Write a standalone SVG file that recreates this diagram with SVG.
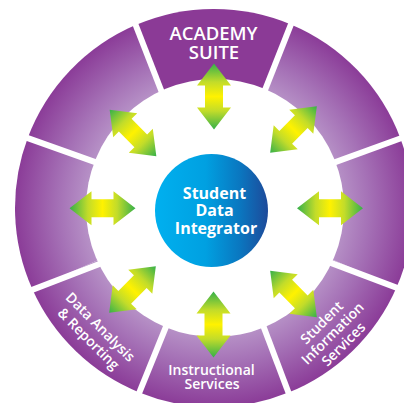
<svg xmlns="http://www.w3.org/2000/svg" xmlns:xlink="http://www.w3.org/1999/xlink" width="407" height="406" viewBox="0 0 407 406">
<style>
.seg{fill:url(#segGrad)}
.seg-top{fill:#8b3a96}
.gap{stroke:#fff;stroke-width:6;fill:none}
.lbl{fill:#fff;font-family:"Open Sans","Liberation Sans",sans-serif;font-weight:600;text-anchor:middle}
.hub-lbl{fill:#fff;font-family:"Open Sans","Liberation Sans",sans-serif;font-weight:700;font-size:16px;text-anchor:middle}
.arrow{fill:url(#arrowGrad)}
</style>
<defs>
<radialGradient id="segGrad" gradientUnits="userSpaceOnUse" cx="214" cy="208" r="199">
<stop offset="0.62" stop-color="#b996c9"/>
<stop offset="0.78" stop-color="#a571b6"/>
<stop offset="1" stop-color="#8b3c98"/>
</radialGradient>
<linearGradient id="arrowGrad" x1="0" y1="0" x2="1" y2="0">
<stop offset="0" stop-color="#35b04a"/>
<stop offset="0.28" stop-color="#c2dc2a"/>
<stop offset="0.5" stop-color="#fff200"/>
<stop offset="0.72" stop-color="#c2dc2a"/>
<stop offset="1" stop-color="#35b04a"/>
</linearGradient>
<linearGradient id="hubGrad" x1="0" y1="0" x2="1" y2="0">
<stop offset="0" stop-color="#00b0ef"/>
<stop offset="0.45" stop-color="#00a0e1"/>
<stop offset="0.75" stop-color="#0a77c0"/>
<stop offset="1" stop-color="#1d4a9a"/>
</linearGradient>
<clipPath id="ringClip"><rect x="0" y="0" width="404" height="403"/></clipPath>
<path id="arrowShape" d="M-33 0 L-11 -17 L-11 -9 L11 -9 L11 -17 L33 0 L11 17 L11 9 L-11 9 L-11 17 Z"/>
</defs>

<g id="ring" clip-path="url(#ringClip)">
<g id="seg-academy-suite">
<path class="seg-top" d="M214 208 L135.6 25.1 A199 199 0 0 1 290.9 24.4 Z"/>
</g>
<g id="seg-upper-right">
<path class="seg" d="M214 208 L290.9 24.4 A199 199 0 0 1 400.4 138.4 Z"/>
</g>
<g id="seg-right">
<path class="seg" d="M214 208 L400.4 138.4 A199 199 0 0 1 396.5 287.5 Z"/>
</g>
<g id="seg-student-information-services">
<path class="seg" d="M214 208 L396.5 287.5 A199 199 0 0 1 288.4 392.6 Z"/>
</g>
<g id="seg-instructional-services">
<path class="seg" d="M214 208 L288.4 392.6 A199 199 0 0 1 139.3 392.5 Z"/>
</g>
<g id="seg-data-analysis">
<path class="seg" d="M214 208 L139.3 392.5 A199 199 0 0 1 32.5 289.6 Z"/>
</g>
<g id="seg-left">
<path class="seg" d="M214 208 L32.5 289.6 A199 199 0 0 1 27.7 138.1 Z"/>
</g>
<g id="seg-upper-left">
<path class="seg" d="M214 208 L27.7 138.1 A199 199 0 0 1 135.6 25.1 Z"/>
</g>
<g id="gaps">
<line class="gap" x1="123.9" y1="-5.2" x2="172.5" y2="119.5"/>
<line class="gap" x1="302.9" y1="-5.9" x2="254.1" y2="117.6"/>
<line class="gap" x1="431.9" y1="127" x2="307.1" y2="172.4"/>
<line class="gap" x1="308.3" y1="254.4" x2="428.3" y2="299.6"/>
<line class="gap" x1="255" y1="304" x2="301.7" y2="427.6"/>
<line class="gap" x1="175.8" y1="302.5" x2="125.8" y2="425.9"/>
<line class="gap" x1="124.1" y1="254.5" x2="-29.9" y2="313.7"/>
<line class="gap" x1="121.3" y1="171.3" x2="-33.7" y2="116.3"/>
</g>
</g>
<circle id="inner-field" cx="215" cy="208" r="129" fill="#fff"/>

<g id="labels">
<text class="lbl" font-size="18.5"><tspan x="213.5" y="40">ACADEMY</tspan><tspan x="214" y="59">SUITE</tspan></text>
<text class="lbl" font-size="14"><tspan x="211.5" y="375">Instructional</tspan><tspan x="212" y="388.5">Services</tspan></text>
<text class="lbl" font-size="14" transform="translate(94.5 332.8) rotate(45)"><tspan x="0" y="-3.3">Data Analysis</tspan><tspan x="0" y="13.3">&amp; Reporting</tspan></text>
<text class="lbl" font-size="14" transform="translate(332.5 333.3) rotate(-45)"><tspan x="0" y="-10.3">Student</tspan><tspan x="0" y="5">Information</tspan><tspan x="0" y="20.3">Services</tspan></text>
</g>

<g id="connectors">
<use xlink:href="#arrowShape" class="arrow" transform="translate(214 96.5) rotate(90)"/>
<use xlink:href="#arrowShape" class="arrow" transform="translate(213.5 324.5) rotate(90)"/>
<use xlink:href="#arrowShape" class="arrow" transform="translate(102.5 208.3)"/>
<use xlink:href="#arrowShape" class="arrow" transform="translate(330 208.3)"/>
<use xlink:href="#arrowShape" class="arrow" transform="translate(133 133) rotate(45)"/>
<use xlink:href="#arrowShape" class="arrow" transform="translate(293.5 129.5) rotate(-45)"/>
<use xlink:href="#arrowShape" class="arrow" transform="translate(132.5 289.5) rotate(-45)"/>
<use xlink:href="#arrowShape" class="arrow" transform="translate(293.5 294) rotate(45)"/>
</g>

<g id="hub">
<circle cx="211.5" cy="210.5" r="56.5" fill="url(#hubGrad)"/>
<text class="hub-lbl"><tspan x="214.5" y="198.5">Student</tspan><tspan x="214.5" y="216">Data</tspan><tspan x="216" y="233.5">Integrator</tspan></text>
</g>
</svg>
